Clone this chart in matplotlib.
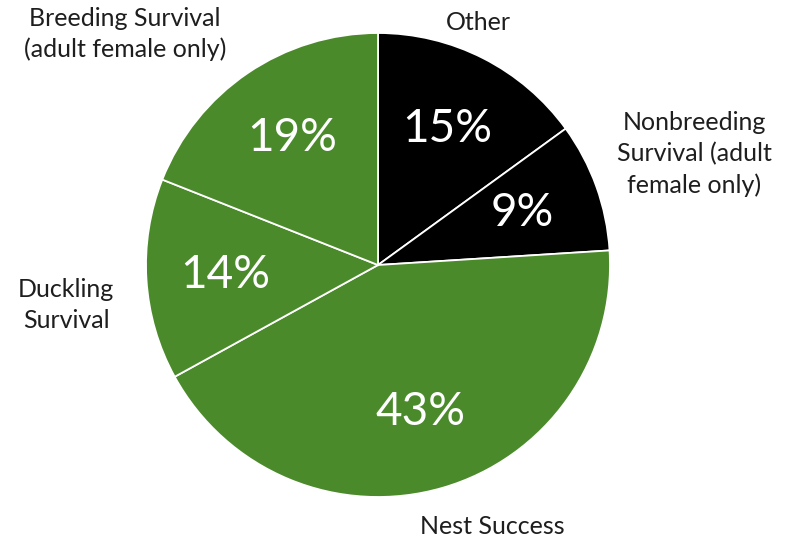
import matplotlib
matplotlib.use("Agg")
import matplotlib.pyplot as plt

categories = ["Other", "Nonbreeding\nSurvival (adult\nfemale only)", "Nest Success",
              "Duckling\nSurvival", "Breeding Survival\n(adult female only)"]
values = [15, 9, 43, 14, 19]
colors = ["#000000", "#000000", "#4b8a2b", "#4b8a2b", "#4b8a2b"]

plt.rcParams['font.family'] = ['Lato', 'DejaVu Sans']

fig = plt.figure(figsize=(7.92, 5.43), dpi=100)
ax = fig.add_axes([0, 0, 1, 1])

wedges, texts, autotexts = ax.pie(
    values, colors=colors, startangle=90, counterclock=False,
    center=(378, 278), radius=232, autopct='%d%%', pctdistance=0.66,
    wedgeprops=dict(edgecolor='white', linewidth=1.3),
    textprops=dict(color='white', fontsize=33), frame=True)

for t in autotexts:
    t.set_color('white')
    t.set_fontsize(33)

label_pos = [(478, 521), (694, 389), (492, 16), (66, 238), (125, 509)]
for t in texts:
    t.set_text("")
for lab, (x, y) in zip(categories, label_pos):
    ax.text(x, y, lab, ha='center', va='center', fontsize=18, color='#1e1e1e',
            linespacing=1.4)

ax.set_xlim(0, 792)
ax.set_ylim(0, 543)
ax.set_aspect('equal')
ax.axis('off')
fig.savefig("out.png", dpi=100)
